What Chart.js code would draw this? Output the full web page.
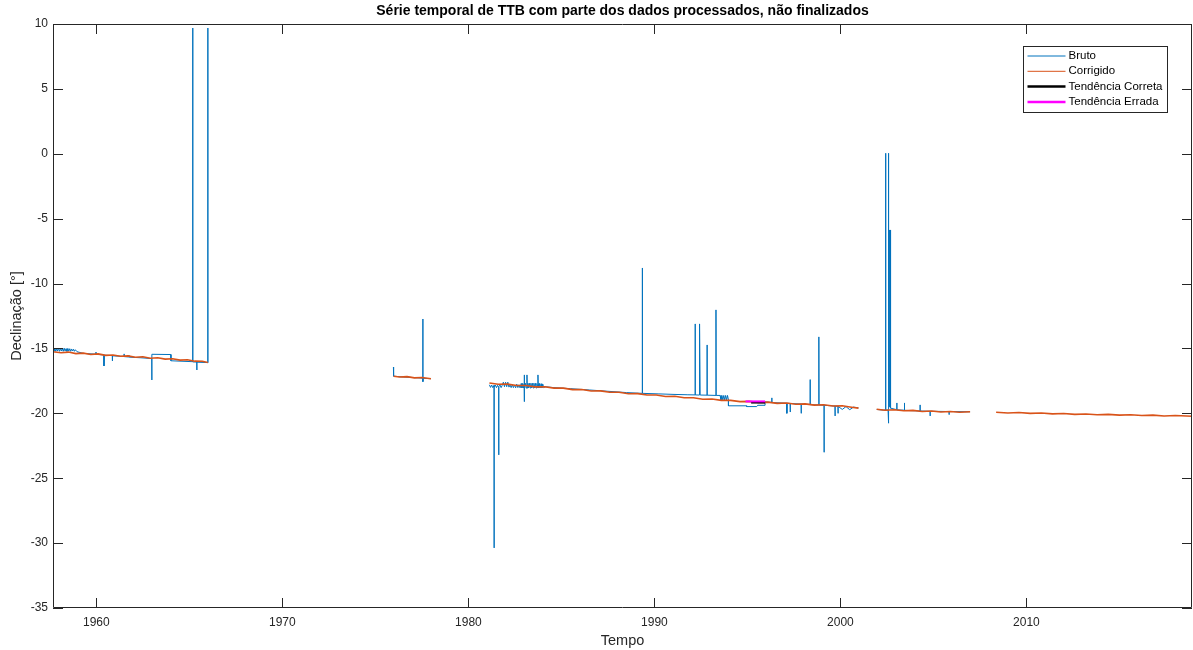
<!DOCTYPE html>
<html>
<head>
<meta charset="utf-8">
<title>Série temporal de TTB</title>
<script src="https://cdn.jsdelivr.net/npm/chart.js@4.4.1/dist/chart.umd.min.js"></script>
<style>
  html, body { margin: 0; padding: 0; background: #fff; }
</style>
</head>
<body>
<canvas id="serie" width="1193" height="650"></canvas>
<script>
// valores (null = falha nos dados)
const brutoAnos = [
  1957.67, 1957.72, 1957.77, 1957.82, 1957.87, 1957.92, 1957.97, 1958.02, 1958.07, 1958.12, 1958.17, 1958.22, 1958.27,
  1958.32, 1958.37, 1958.42, 1958.47, 1958.52, 1958.57, 1958.62, 1958.67, 1958.72, 1958.77, 1958.82, 1958.87, 1958.96,
  1959.3, 1959.98, 1959.98, 1959.99, 1960.41, 1960.41, 1960.42, 1960.86, 1960.86, 1960.87,
  1961.49, 1961.49, 1961.5, 1961.75, 1961.75, 1961.76, 1962.4, 1962.98, 1962.98, 1962.99,
  1964.01, 1964.01, 1965.18, 1965.18, 1965.19, 1965.4, 1965.4, 1965.41, 1965.99, 1965.99, 1966.0,
  1970,
  1975.97, 1975.98, 1976.5, 1977.0, 1977.55, 1977.55, 1977.56, 1977.57, 1977.99,
  1980,
  1981.13, 1981.19, 1981.25, 1981.31, 1981.38, 1981.38, 1981.39, 1981.45, 1981.51, 1981.57, 1981.63, 1981.63, 1981.64,
  1981.7, 1981.76, 1981.82, 1981.88, 1981.94, 1982.0, 1982.06, 1982.12, 1982.18, 1982.24, 1982.3, 1982.36,
  1982.42, 1982.48, 1982.54, 1982.6, 1982.66, 1982.72, 1982.78, 1982.84, 1982.88, 1982.92, 1982.96,
  1983.0, 1983.0, 1983.01, 1983.02, 1983.06, 1983.1, 1983.15, 1983.15, 1983.16, 1983.2, 1983.24,
  1983.28, 1983.32, 1983.36, 1983.4, 1983.44, 1983.48, 1983.52, 1983.56, 1983.6, 1983.64, 1983.68,
  1983.74, 1983.74, 1983.75, 1983.79, 1983.83, 1983.87, 1983.91, 1983.95, 1984.0, 1984.05, 1984.12,
  1984.6, 1985.5, 1986.5, 1987.5, 1988.5, 1989.35, 1989.35, 1989.36, 1990.2, 1991.0, 1991.8,
  1992.19, 1992.19, 1992.2, 1992.4, 1992.4, 1992.41, 1992.45, 1992.45, 1992.46,
  1992.83, 1992.83, 1992.84, 1993.31, 1993.31, 1993.32,
  1993.53, 1993.58, 1993.63, 1993.68, 1993.73, 1993.78, 1993.83, 1993.88, 1993.93, 1993.98, 1993.98,
  1994.96, 1994.96, 1995.5, 1995.55, 1995.95, 1995.95, 1996.31, 1996.31, 1996.32,
  1997.12, 1997.12, 1997.13, 1997.3, 1997.3, 1997.31, 1997.89, 1997.89, 1997.9,
  1998.37, 1998.37, 1998.38, 1998.84, 1998.84, 1998.85, 1999.12, 1999.12, 1999.13,
  1999.71, 1999.71, 1999.72, 1999.87, 1999.87, 1999.88, 2000.1, 2000.3, 2000.5, 2000.7, 2000.97,
  2001.5,
  2001.95, 2002.3, 2002.43, 2002.43, 2002.44, 2002.56, 2002.57, 2002.58, 2002.59,
  2002.6, 2002.6, 2002.62, 2002.63, 2002.65, 2002.66, 2002.68, 2002.69, 2002.7,
  2003.03, 2003.03, 2003.04, 2003.44, 2003.44, 2003.45, 2004.28, 2004.28, 2004.29,
  2004.82, 2004.82, 2004.83, 2005.84, 2005.84, 2005.85, 2006.97
];
const brutoValores = [
  -15.0, -15.2, -14.98, -15.22, -15.0, -15.2, -14.98, -15.22, -15.0, -15.2, -15.0, -15.22, -14.98,
  -15.2, -15.02, -15.22, -15.0, -15.2, -15.02, -15.22, -15.04, -15.2, -15.06, -15.22, -15.1, -15.25,
  -15.38, -15.44, -15.28, -15.46, -15.5, -16.35, -15.52, -15.55, -15.96, -15.57,
  -15.62, -15.42, -15.63, -15.66, -15.52, -15.67, -15.72, -15.78, -17.43, -15.45,
  -15.47, -15.95, -16.02, 9.69, -16.04, -16.05, -16.66, -16.06, -16.09, 9.69, -16.1,
  null,
  -16.43, -17.14, -17.2, -17.24, -17.29, -12.73, -17.56, -17.3, -17.33,
  null,
  -17.8, -18.0, -17.82, -18.02, -17.85, -30.37, -17.95, -17.82, -18.02, -17.84, -18.0, -23.2, -17.95,
  -17.82, -18.02, -17.84, -17.6, -17.95, -17.6, -17.95, -17.6, -17.98, -17.82, -18.02, -17.8,
  -18.02, -17.82, -18.04, -17.75, -18.02, -17.8, -18.04, -17.7, -18.04, -17.7, -18.05,
  -17.72, -17.04, -19.1, -17.9, -17.68, -18.05, -17.7, -17.04, -18.05, -17.68, -18.05,
  -17.68, -18.05, -17.68, -18.05, -17.68, -18.05, -17.68, -18.05, -17.68, -18.05, -17.7,
  -18.05, -17.04, -17.7, -18.05, -17.7, -18.05, -17.72, -18.05, -17.75, -18.02, -17.95,
  -18.02, -18.1, -18.2, -18.3, -18.4, -18.46, -8.8, -18.46, -18.5, -18.54, -18.57,
  -18.58, -13.11, -18.58, -18.59, -13.11, -18.59, -18.59, -13.11, -18.59,
  -18.6, -14.73, -18.6, -18.62, -12.03, -18.62,
  -18.62, -18.97, -18.62, -18.97, -18.62, -18.97, -18.62, -18.97, -18.62, -18.97, -19.42,
  -19.42, -19.48, -19.48, -19.38, -19.38, -19.12, -19.16, -18.81, -19.17,
  -19.22, -20.0, -19.22, -19.24, -19.9, -19.24, -19.28, -20.0, -19.28,
  -19.32, -17.4, -19.33, -19.36, -14.11, -19.36, -19.38, -23.0, -19.38,
  -19.44, -20.2, -19.44, -19.46, -20.0, -19.46, -19.7, -19.48, -19.72, -19.52, -19.58,
  null,
  -19.7, -19.75, -19.74, 0.04, -19.74, -19.75, 0.04, -19.75, -20.76,
  -19.5, -5.87, -19.5, -5.87, -19.5, -5.87, -19.5, -5.87, -19.6,
  -19.72, -19.2, -19.73, -19.76, -19.2, -19.77, -19.82, -19.35, -19.82,
  -19.84, -20.2, -19.84, -19.86, -20.1, -19.86, -19.88
];

const corrigidoAnos = [
  1957.67, 1958.1, 1958.5, 1958.9, 1959.3, 1959.7, 1960.1, 1960.5, 1960.9, 1961.3, 1961.7,
  1962.1, 1962.5, 1962.9, 1963.3, 1963.7, 1964.1, 1964.5, 1964.9, 1965.3, 1965.7, 1965.99,
  1970,
  1975.98, 1976.3, 1976.7, 1977.1, 1977.5, 1977.99,
  1980,
  1981.13, 1981.6, 1982.1, 1982.6, 1983.1, 1983.6, 1984.1, 1984.6, 1985.1, 1985.6, 1986.1,
  1986.6, 1987.1, 1987.6, 1988.1, 1988.6, 1989.1, 1989.6, 1990.1, 1990.6, 1991.1, 1991.6,
  1992.1, 1992.6, 1993.1, 1993.6, 1994.1, 1994.6, 1995.1, 1995.6, 1996.1, 1996.6, 1997.1,
  1997.6, 1998.1, 1998.6, 1999.1, 1999.6, 2000.1, 2000.6, 2000.97,
  2001.5,
  2001.95, 2002.4, 2002.9, 2003.4, 2003.9, 2004.4, 2004.9, 2005.4, 2005.9, 2006.4, 2006.97,
  2007.7,
  2008.37, 2009.0, 2009.6, 2010.2, 2010.8, 2011.4, 2012.0, 2012.6, 2013.2, 2013.8, 2014.4,
  2015.0, 2015.6, 2016.2, 2016.8, 2017.4, 2018.0, 2018.9
];
const corrigidoValores = [
  -15.25, -15.33, -15.28, -15.4, -15.36, -15.47, -15.42, -15.53, -15.5, -15.6, -15.57,
  -15.68, -15.64, -15.75, -15.72, -15.82, -15.79, -15.9, -15.87, -15.98, -15.99, -16.09,
  null,
  -17.14, -17.2, -17.17, -17.27, -17.24, -17.33,
  null,
  -17.66, -17.76, -17.75, -17.86, -17.85, -17.96, -17.95, -18.06, -18.06, -18.17, -18.16,
  -18.28, -18.27, -18.38, -18.38, -18.49, -18.48, -18.59, -18.59, -18.7, -18.69, -18.8,
  -18.8, -18.91, -18.9, -19.0, -19.0, -19.1, -19.08, -19.17, -19.14, -19.23, -19.2,
  -19.3, -19.27, -19.37, -19.34, -19.44, -19.42, -19.53, -19.6,
  null,
  -19.68, -19.76, -19.72, -19.8, -19.77, -19.86, -19.82, -19.9, -19.86, -19.92, -19.88,
  null,
  -19.92, -19.97, -19.94, -20.0, -19.97, -20.04, -20.01, -20.08, -20.05, -20.11, -20.08,
  -20.14, -20.11, -20.17, -20.14, -20.2, -20.17, -20.22
];

const corretaAnos = [1995.2, 1995.95];
const corretaValores = [-19.17, -19.17];
const erradaAnos = [1994.9, 1995.95];
const erradaValores = [-19.08, -19.08];

const xTicks = [1960, 1970, 1980, 1990, 2000, 2010];
const yTicks = [-35, -30, -25, -20, -15, -10, -5, 0, 5, 10];

const pontos = (anos, valores) => anos.map((a, i) => ({ x: a, y: valores[i] }));

Chart.defaults.font.family = '"Liberation Sans", Arial, Helvetica, sans-serif';

// caixa com ticks para dentro, estilo matlab
const moldura = {
  id: 'moldura',
  afterDatasetsDraw(chart) {
    const { ctx, chartArea: a, scales: { x, y } } = chart;
    ctx.save();
    ctx.strokeStyle = '#262626';
    ctx.lineWidth = 1;
    ctx.beginPath();
    ctx.rect(a.left + 0.5, a.top + 0.5, a.right - a.left - 1, a.bottom - a.top - 1);
    xTicks.forEach(v => {
      const px = Math.round(x.getPixelForValue(v)) + 0.5;
      ctx.moveTo(px, a.bottom); ctx.lineTo(px, a.bottom - 10);
      ctx.moveTo(px, a.top); ctx.lineTo(px, a.top + 10);
    });
    yTicks.forEach(v => {
      const py = Math.round(y.getPixelForValue(v)) + 0.5;
      ctx.moveTo(a.left, py); ctx.lineTo(a.left + 10, py);
      ctx.moveTo(a.right, py); ctx.lineTo(a.right - 10, py);
    });
    ctx.stroke();
    ctx.restore();
  }
};

const legenda = {
  id: 'legenda',
  afterDraw(chart) {
    const { ctx, chartArea: a } = chart;
    const x0 = a.right - 168.5, y0 = a.top + 22.5, w = 144, h = 66;
    ctx.save();
    ctx.fillStyle = '#fff';
    ctx.fillRect(x0, y0, w, h);
    ctx.strokeStyle = '#262626';
    ctx.lineWidth = 1;
    ctx.strokeRect(x0, y0, w, h);
    ctx.font = '11.5px "Liberation Sans", Arial, Helvetica, sans-serif';
    ctx.textBaseline = 'middle';
    ctx.fillStyle = '#000';
    chart.data.datasets.forEach((ds, i) => {
      const yy = y0 + 9.5 + i * 15.3;
      ctx.strokeStyle = ds.borderColor;
      ctx.lineWidth = i < 2 ? 1 : 2.5;
      ctx.beginPath();
      ctx.moveTo(x0 + 4, yy);
      ctx.lineTo(x0 + 42, yy);
      ctx.stroke();
      ctx.fillText(ds.label, x0 + 45, yy);
    });
    ctx.restore();
  }
};

new Chart('serie', {
  type: 'line',
  data: {
    datasets: [
      { label: 'Bruto', data: pontos(brutoAnos, brutoValores), borderColor: 'rgb(0,114,189)', borderWidth: 1, order: 4 },
      { label: 'Corrigido', data: pontos(corrigidoAnos, corrigidoValores), borderColor: 'rgb(217,83,25)', borderWidth: 1.6, order: 3 },
      { label: 'Tendência Correta', data: pontos(corretaAnos, corretaValores), borderColor: '#000000', borderWidth: 2, order: 2 },
      { label: 'Tendência Errada', data: pontos(erradaAnos, erradaValores), borderColor: '#ff00ff', borderWidth: 2, order: 1 }
    ]
  },
  options: {
    responsive: false,
    animation: false,
    spanGaps: false,
    elements: { point: { radius: 0 }, line: { tension: 0 } },
    layout: { padding: { right: 1 } },
    plugins: {
      legend: { display: false },
      tooltip: { enabled: false },
      title: {
        display: true,
        fullSize: false,
        text: 'Série temporal de TTB com parte dos dados processados, não finalizados',
        color: '#000',
        font: { size: 14, weight: 'bold' },
        padding: { top: 3, bottom: 4.2 }
      }
    },
    scales: {
      x: {
        type: 'linear',
        min: 1957.67,
        max: 2018.9,
        afterBuildTicks: s => { s.ticks = xTicks.map(v => ({ value: v })); },
        afterFit: s => { s.height = 42; },
        ticks: { callback: v => String(v), color: '#262626', font: { size: 12 }, padding: 7, maxRotation: 0, autoSkip: false },
        grid: { display: false, drawTicks: false },
        border: { display: false },
        title: { display: true, text: 'Tempo', color: '#262626', font: { size: 14.5 }, padding: { top: 0, bottom: 0.3 } }
      },
      y: {
        min: -35,
        max: 10,
        afterBuildTicks: s => { s.ticks = yTicks.map(v => ({ value: v })); },
        afterFit: s => { s.width = 53; },
        ticks: { callback: v => String(v), color: '#262626', font: { size: 12 }, padding: 5, autoSkip: false },
        grid: { display: false, drawTicks: false },
        border: { display: false },
        title: { display: true, text: 'Declinação [°]', color: '#262626', font: { size: 14.5 }, padding: { top: 8.3, bottom: 0 } }
      }
    }
  },
  plugins: [moldura, legenda]
});
</script>
</body>
</html>
